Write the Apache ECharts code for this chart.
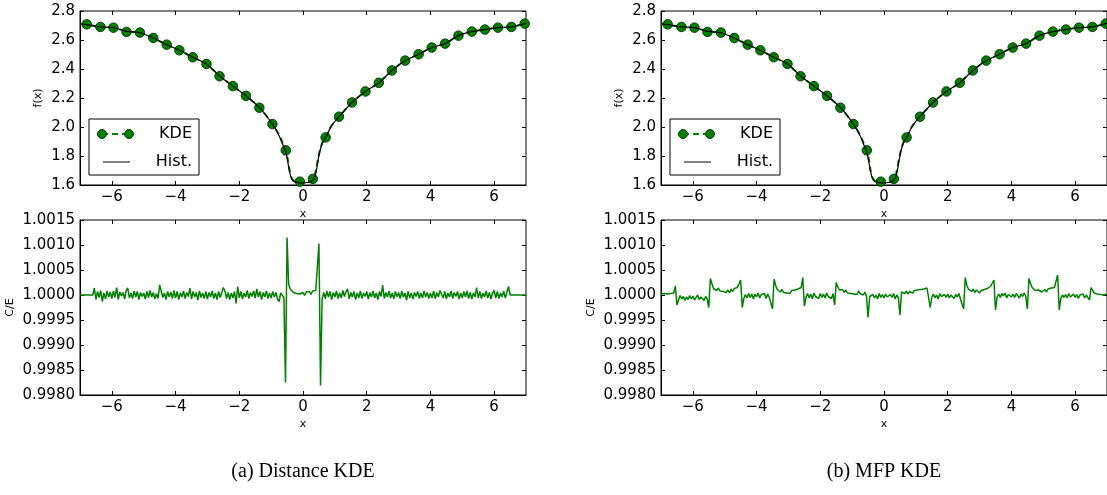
<!DOCTYPE html>
<html><head><meta charset="utf-8">
<script src="https://cdn.jsdelivr.net/npm/echarts@6/dist/echarts.min.js"></script>
<style>html,body{margin:0;padding:0;background:#fff}#c{width:1107px;height:495px}</style>
</head><body><div id="c"></div>
<script>
// ---------------- data ----------------
const xTickLabels = ['-6', '-4', '-2', '0', '2', '4', '6'];
const fTickLabels = ['1.6', '1.8', '2.0', '2.2', '2.4', '2.6', '2.8'];
const ceTickLabels = ['0.9980', '0.9985', '0.9990', '0.9995', '1.0000', '1.0005', '1.0010', '1.0015'];
const captions = ['(a) Distance KDE', '(b) MFP KDE'];

// KDE markers (top panels)
const kdeX = [-6.79, -6.36, -5.95, -5.54, -5.12, -4.70, -4.28, -3.88, -3.46, -3.03, -2.62, -2.20, -1.79, -1.37, -0.96, -0.54, -0.10, 0.31, 0.71, 1.13, 1.54, 1.96, 2.38, 2.79, 3.21, 3.63, 4.04, 4.46, 4.88, 5.30, 5.71, 6.12, 6.54, 6.96];
const kdeY = [2.708, 2.690, 2.685, 2.656, 2.651, 2.614, 2.568, 2.529, 2.481, 2.435, 2.350, 2.282, 2.215, 2.133, 2.020, 1.839, 1.623, 1.642, 1.928, 2.071, 2.169, 2.245, 2.305, 2.390, 2.458, 2.502, 2.548, 2.575, 2.630, 2.658, 2.672, 2.685, 2.690, 2.713];

// curves (top panels)
const curveX = [-7.0, -6.79, -6.36, -5.95, -5.54, -5.12, -4.70, -4.28, -3.88, -3.46, -3.03, -2.62, -2.20, -1.79, -1.37, -0.96, -0.75, -0.62, -0.54, -0.47, -0.42, -0.36, -0.28, -0.15, 0.0, 0.15, 0.28, 0.36, 0.42, 0.48, 0.55, 0.62, 0.71, 0.90, 1.13, 1.54, 1.96, 2.38, 2.79, 3.21, 3.63, 4.04, 4.46, 4.88, 5.30, 5.71, 6.12, 6.54, 6.96, 7.0];
const histY = [2.712, 2.706, 2.690, 2.685, 2.660, 2.650, 2.614, 2.568, 2.529, 2.481, 2.435, 2.352, 2.282, 2.215, 2.135, 2.020, 1.940, 1.870, 1.830, 1.750, 1.690, 1.645, 1.625, 1.617, 1.615, 1.617, 1.628, 1.650, 1.700, 1.780, 1.850, 1.895, 1.928, 2.010, 2.071, 2.169, 2.245, 2.305, 2.390, 2.458, 2.502, 2.548, 2.575, 2.630, 2.658, 2.672, 2.685, 2.690, 2.713, 2.715];
const kdeCurveY = [2.712, 2.706, 2.690, 2.685, 2.660, 2.650, 2.614, 2.568, 2.529, 2.481, 2.435, 2.352, 2.282, 2.215, 2.135, 2.020, 1.945, 1.880, 1.840, 1.770, 1.700, 1.650, 1.626, 1.618, 1.616, 1.618, 1.630, 1.660, 1.720, 1.790, 1.855, 1.898, 1.928, 2.010, 2.071, 2.169, 2.245, 2.305, 2.390, 2.458, 2.502, 2.548, 2.575, 2.630, 2.658, 2.672, 2.685, 2.690, 2.713, 2.715];

// C/E ratio, sampled every 0.05 from x = -7 to 7; deviations from 1 in units of 1e-5
const ceSampleStart = -7, ceSampleStep = 0.05;
const ceDistanceDev = [
  0,0,0,0,0,0,0,0,0,14,-9,7,-5,9,-13,4,-8,8,-4,6,
  -7,8,-5,15,-9,6,-2,5,-8,9,14,-6,4,-7,8,-4,7,-9,5,-3,
  4,-8,7,-5,9,-4,5,-8,3,-7,20,8,-5,4,-9,7,-4,6,-7,9,
  -6,7,-9,4,-4,8,-7,5,-3,14,-8,7,-4,5,-10,8,-5,4,-7,7,
  -8,5,-4,8,-7,4,-9,7,-5,-4,15,8,-7,5,-9,4,-6,7,-17,17,
  -6,7,-8,4,-4,9,-7,5,-3,8,-6,12,-4,7,-9,5,-4,8,-7,4,
  -6,7,-4,5,-8,-13,4,7,-5,-175,115,21,12,9,5,9,3,7,2,6,
  5,-1,6,3,7,1,8,4,9,10,103,-181,-8,5,-7,8,-4,7,-9,5,
  -4,8,-7,4,-6,9,-3,7,12,-8,5,-4,7,-9,4,-6,8,-7,4,-3,
  7,-8,5,-4,8,-6,4,-9,7,-3,20,-7,5,-4,8,-6,4,-8,7,-4,
  5,-7,8,-4,4,-10,7,-6,4,-8,5,-3,7,-7,4,-6,8,-4,5,-7,
  4,-6,8,-7,5,-4,9,13,-6,7,-8,4,-4,8,-7,5,-3,7,-8,4,
  -6,7,-4,8,-7,5,-8,4,-4,15,-6,7,-7,4,-4,8,-6,5,-8,4,
  9,-6,7,-7,4,-4,8,-6,5,17,0,0,0,0,0,0,0,0,0,0,
  0
];
const ceMfpDev = [
  2,0,3,-1,2,0,3,1,4,18,-20,-10,-1,-8,-3,-11,-4,-9,-1,-8,
  -2,-10,-5,0,-9,-4,-1,-11,-3,-8,-25,33,22,13,17,9,14,8,12,7,
  11,5,10,4,12,7,13,9,15,18,30,-25,-7,1,-6,3,-5,2,-8,2,
  -4,4,-6,1,-2,3,-7,2,-5,-3,-28,32,19,11,10,6,11,5,9,4,
  8,3,9,5,10,6,12,9,15,35,-22,-5,3,-6,2,-8,4,-3,1,-7,
  3,-5,2,-6,4,-3,1,-7,3,-20,25,16,10,9,11,5,10,4,8,3,
  7,2,6,1,8,3,4,0,6,-3,-45,-3,-7,1,-6,0,-8,3,-5,1,
  -6,2,-4,-7,1,-5,3,-8,0,-5,-40,6,10,3,8,2,7,10,4,9,
  5,10,6,11,7,12,8,14,15,-25,-5,2,-6,0,-8,3,-3,-7,1,-5,
  2,-6,0,4,-7,1,-4,3,-8,-4,-28,35,19,12,11,7,12,5,10,6,
  4,9,5,11,8,13,14,18,20,30,-30,-4,2,-5,3,-2,4,-6,1,3,
  -4,2,-5,3,-1,-6,2,-3,4,-3,-28,33,23,15,13,9,9,10,10,6,
  9,11,6,12,8,14,11,15,18,40,-30,-7,0,-5,1,-6,3,-4,-8,2,
  -5,1,-7,0,-4,2,-6,0,-4,-10,15,9,4,7,2,5,1,4,0,3,
  2
];

// ---------------- build ----------------
const zip = (xs, ys) => xs.map((x, i) => [x, ys[i]]);
const cePairs = dev => dev.map((d, i) => [+(ceSampleStart + i * ceSampleStep).toFixed(2), 1 + d * 1e-5]);
const xTickVals = xTickLabels.map(Number);
const fTickVals = fTickLabels.map(Number);
const ceTickVals = ceTickLabels.map(Number);

const FONT = 'DejaVu Sans';
const GREEN = '#008000';
const panelLeft = [80, 661];
const panelW = [446, 447];
const topRow = { top: 11, height: 174 };
const botRow = { top: 220, height: 175 };

const grids = [], xAxes = [], yAxes = [], series = [], graphics = [];

function addPanel(left, width, row, yVals, yLabels, yName, yNameGap) {
  const gi = grids.length;
  grids.push({ left: left, top: row.top, width: width, height: row.height, show: true,
    borderColor: '#000', borderWidth: 1, backgroundColor: 'transparent', containLabel: false });
  const xi = xAxes.length, yi = yAxes.length;
  const xBase = { type: 'value', gridIndex: gi, min: -7, max: 7, splitLine: { show: false } };
  xAxes.push(Object.assign({}, xBase, {
    position: 'bottom',
    axisLine: { show: true, onZero: false, lineStyle: { color: '#000', width: 1 } },
    axisTick: { show: true, inside: true, length: 4, customValues: xTickVals, lineStyle: { color: '#000' } },
    axisLabel: { show: true, customValues: xTickVals, margin: 5, color: '#000', fontFamily: FONT, fontSize: 15,
      formatter: v => xTickLabels[xTickVals.indexOf(v)].replace('-', '\u2212') },
    name: 'x', nameLocation: 'middle', nameGap: 24,
    nameTextStyle: { color: '#000', fontFamily: FONT, fontSize: 11 }
  }));
  xAxes.push(Object.assign({}, xBase, {
    position: 'top', axisLine: { show: false, onZero: false },
    axisTick: { show: true, inside: true, length: 4, customValues: xTickVals, lineStyle: { color: '#000' } },
    axisLabel: { show: false }
  }));
  const yBase = { type: 'value', gridIndex: gi, min: yVals[0], max: yVals[yVals.length - 1], splitLine: { show: false } };
  yAxes.push(Object.assign({}, yBase, {
    position: 'left',
    axisLine: { show: true, onZero: false, lineStyle: { color: '#000', width: 1 } },
    axisTick: { show: true, inside: true, length: 4, customValues: yVals, lineStyle: { color: '#000' } },
    axisLabel: { show: true, customValues: yVals, margin: 5, color: '#000', fontFamily: FONT, fontSize: 15,
      formatter: v => yLabels[yVals.indexOf(v)] },
    name: yName, nameLocation: 'middle', nameRotate: 90, nameGap: yNameGap,
    nameTextStyle: { color: '#000', fontFamily: FONT, fontSize: 11 }
  }));
  yAxes.push(Object.assign({}, yBase, {
    position: 'right', axisLine: { show: false, onZero: false },
    axisTick: { show: true, inside: true, length: 4, customValues: yVals, lineStyle: { color: '#000' } },
    axisLabel: { show: false }
  }));
  return { xi: xi, yi: yi };
}

for (let p = 0; p < 2; p++) {
  const left = panelLeft[p], w = panelW[p];
  const t = addPanel(left, w, topRow, fTickVals, fTickLabels, 'f(x)', 36);
  series.push({ type: 'line', xAxisIndex: t.xi, yAxisIndex: t.yi, data: zip(curveX, kdeCurveY),
    showSymbol: false, smooth: 0.3, lineStyle: { color: GREEN, width: 2, type: [6, 4] }, z: 2, animation: false });
  series.push({ type: 'scatter', xAxisIndex: t.xi, yAxisIndex: t.yi, data: zip(kdeX, kdeY),
    symbol: 'circle', symbolSize: 9.5, itemStyle: { color: GREEN, borderColor: '#0b3d0b', borderWidth: 1, opacity: 1 }, z: 3, animation: false });
  series.push({ type: 'line', xAxisIndex: t.xi, yAxisIndex: t.yi, data: zip(curveX, histY),
    showSymbol: false, smooth: 0.3, lineStyle: { color: '#000', width: 1.2 }, z: 4, animation: false });

  const b = addPanel(left, w, botRow, ceTickVals, ceTickLabels, 'C/E', 64);
  series.push({ type: 'line', xAxisIndex: b.xi, yAxisIndex: b.yi, data: cePairs(p === 0 ? ceDistanceDev : ceMfpDev),
    showSymbol: false, lineStyle: { color: GREEN, width: 1.5 }, z: 2, animation: false });

  // legend box
  const ox = left - 80;
  graphics.push({ type: 'rect', z: 100, shape: { x: 89 + ox, y: 119, width: 110, height: 56 },
    style: { fill: '#fff', stroke: '#000', lineWidth: 1 } });
  graphics.push({ type: 'line', z: 101, shape: { x1: 102 + ox, y1: 134, x2: 129 + ox, y2: 134 },
    style: { stroke: GREEN, lineWidth: 2, lineDash: [6, 4] } });
  graphics.push({ type: 'circle', z: 102, shape: { cx: 102 + ox, cy: 134, r: 4.5 }, style: { fill: GREEN, stroke: '#0b3d0b', lineWidth: 1 } });
  graphics.push({ type: 'circle', z: 102, shape: { cx: 129 + ox, cy: 134, r: 4.5 }, style: { fill: GREEN, stroke: '#0b3d0b', lineWidth: 1 } });
  graphics.push({ type: 'text', z: 102, x: 192 + ox, y: 134,
    style: { text: 'KDE', fill: '#000', font: '16px "DejaVu Sans"', textAlign: 'right', textVerticalAlign: 'middle' } });
  graphics.push({ type: 'line', z: 101, shape: { x1: 103 + ox, y1: 162, x2: 130 + ox, y2: 162 },
    style: { stroke: '#000', lineWidth: 1 } });
  graphics.push({ type: 'text', z: 102, x: 192 + ox, y: 162,
    style: { text: 'Hist.', fill: '#000', font: '16px "DejaVu Sans"', textAlign: 'right', textVerticalAlign: 'middle' } });
  // caption
  graphics.push({ type: 'text', z: 102, x: left + 223, y: 472,
    style: { text: captions[p], fill: '#000', font: '20px "Liberation Serif"', textAlign: 'center', textVerticalAlign: 'middle' } });
}

const chart = echarts.init(document.getElementById('c'), null, { renderer: 'canvas' });
chart.setOption({
  animation: false,
  backgroundColor: '#fff',
  grid: grids, xAxis: xAxes, yAxis: yAxes, series: series, graphic: graphics
});
</script></body></html>
